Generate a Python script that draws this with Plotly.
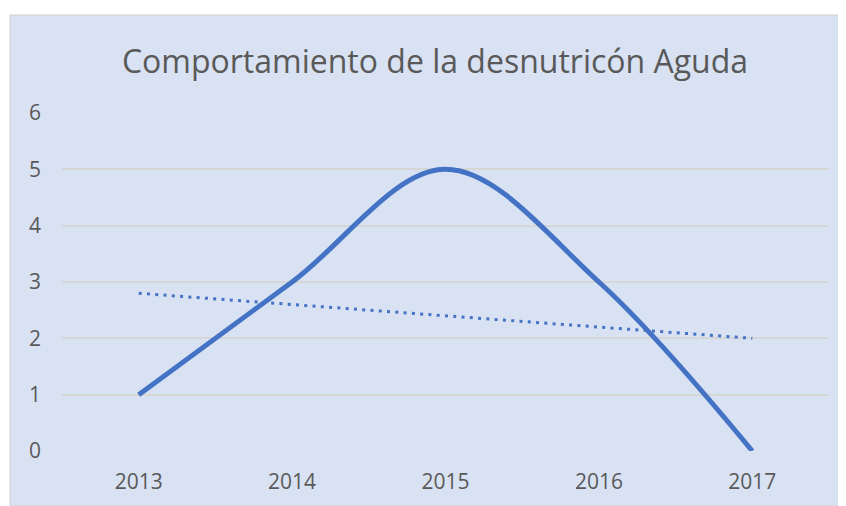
import numpy as np
import plotly.graph_objects as go

years = ["2013", "2014", "2015", "2016", "2017"]
values = [1, 3, 5, 3, 0]
title_text = "Comportamiento de la desnutricón Aguda"

# linear trendline (least squares), like Excel's trendline
idx = np.arange(len(values))
slope, intercept = np.polyfit(idx, values, 1)
trend = list(intercept + slope * idx)

OFF = 8  # page body margin
W, H = 846 - OFF, 506 - OFF
ml, mr, mt, mb = 62 - OFF, 17, 113 - OFF, 55
pw, ph = W - ml - mr, H - mt - mb

def px(xp):
    return (xp - OFF - ml) / pw

def py(yp):
    return (H - mb - (yp - OFF)) / ph

fig = go.Figure()
fig.add_trace(go.Scatter(x=years, y=values, mode="lines",
                         line=dict(color="#4472C4", width=5, shape="spline", smoothing=1.0),
                         showlegend=False))
fig.add_trace(go.Scatter(x=years, y=trend, mode="lines",
                         line=dict(color="#4472C4", width=3, dash="3px,5.3px"),
                         showlegend=False))

fig.add_shape(type="rect", xref="paper", yref="paper",
              x0=px(10), x1=px(840), y0=py(506), y1=py(15),
              fillcolor="#D9E2F3", line=dict(color="#D0D0D0", width=1), layer="below")

fig.update_layout(
    width=W, height=H,
    margin=dict(l=ml, r=mr, t=mt, b=mb),
    paper_bgcolor="white",
    plot_bgcolor="rgba(0,0,0,0)",
    title=dict(text=title_text, xref="paper", x=px(435), xanchor="center",
               y=1 - (62 - OFF) / H, yanchor="middle",
               font=dict(family="Open Sans", size=32, color="#595959")),
    font=dict(family="Open Sans", color="#595959", size=21),
    xaxis=dict(type="category", range=[-0.5, 4.5], showgrid=False, zeroline=False,
               showline=False, ticks="", tickfont=dict(size=21), ticklabelstandoff=16),
    yaxis=dict(range=[0, 6], dtick=1, showgrid=True, gridcolor="#D6D6D6", gridwidth=1.5,
               zeroline=False, showline=False, ticks="", tickfont=dict(size=21),
               ticklabelstandoff=20),
)
fig.write_html("out.html")
